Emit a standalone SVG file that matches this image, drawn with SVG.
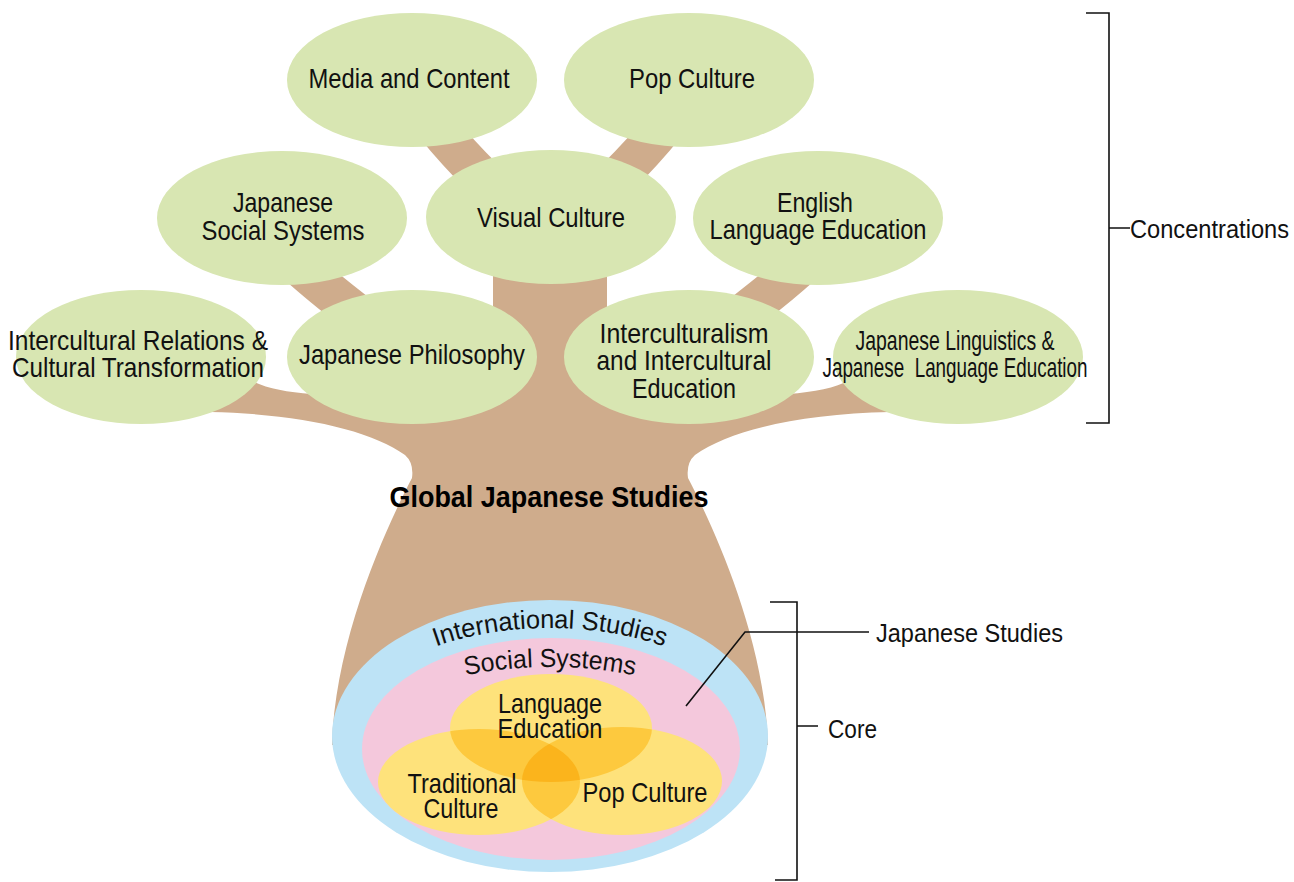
<svg xmlns="http://www.w3.org/2000/svg" width="1294" height="882" viewBox="0 0 1294 882">
<style>
.leaf{fill:#d8e6b2}
.wood{fill:#cfac8c}
.limb{fill:none;stroke:#cfac8c;stroke-width:40}
.t{font-family:"Liberation Sans Narrow","Liberation Sans",Arial,sans-serif;font-size:28px;fill:#111;text-anchor:middle}
.ts{font-family:"Liberation Sans Narrow","Liberation Sans",Arial,sans-serif;font-size:26px;fill:#111}
.tb{font-family:"Liberation Sans Narrow","Liberation Sans",Arial,sans-serif;font-size:30px;font-weight:bold;fill:#000;text-anchor:middle}
.ln{fill:none;stroke:#111;stroke-width:1.6}
.y1{fill:#fee27b}
.y2{fill:#fdc93e}
.y3{fill:#fbb41c}
</style>
<defs>
<clipPath id="cA"><ellipse cx="551" cy="728" rx="101" ry="54"/></clipPath>
<clipPath id="cB"><ellipse cx="479" cy="782" rx="101" ry="53"/></clipPath>
<path id="arcIS" d="M346,736 A204,108 0 0 1 754,736"/>
<path id="arcSS" d="M346,760 A204,93 0 0 1 754,760"/>
</defs>
<rect width="1294" height="882" fill="#fff"/>

<g id="tree">
<path class="wood" d="M190,410 L200,395 L250,380 C265,388 285,392 312,394 L420,380 L493,320 L493,240 L607,240 L607,320 L680,380 L788,394 C815,392 835,388 850,380 L900,395 L910,410 L890,412 C800,414 730,430 695,455 Q686,463 688,478 C715,530 765,640 768,745 L332,745 C335,640 385,530 412,478 Q414,463 405,455 C370,430 300,414 210,412 Z"/>
<path class="limb" d="M435,125 Q455,150 485,180"/>
<path class="limb" d="M665,125 Q645,150 615,180"/>
<path class="limb" d="M298,265 Q320,285 355,312"/>
<path class="limb" d="M802,265 Q780,285 745,312"/>
</g>

<g id="n-media"><ellipse class="leaf" cx="412" cy="80" rx="125" ry="67"/><text class="t" x="409" y="88" textLength="201" lengthAdjust="spacingAndGlyphs">Media and Content</text></g>
<g id="n-pop"><ellipse class="leaf" cx="689" cy="80" rx="125" ry="67"/><text class="t" x="692" y="88" textLength="126" lengthAdjust="spacingAndGlyphs">Pop Culture</text></g>
<g id="n-jss"><ellipse class="leaf" cx="282" cy="218" rx="125" ry="67"/><text class="t" x="283" y="212" textLength="100" lengthAdjust="spacingAndGlyphs">Japanese</text><text class="t" x="283" y="240" textLength="163" lengthAdjust="spacingAndGlyphs">Social Systems</text></g>
<g id="n-visual"><ellipse class="leaf" cx="551" cy="217" rx="125" ry="67"/><text class="t" x="551" y="227" textLength="148" lengthAdjust="spacingAndGlyphs">Visual Culture</text></g>
<g id="n-english"><ellipse class="leaf" cx="818" cy="218" rx="125" ry="67"/><text class="t" x="815" y="212" textLength="76" lengthAdjust="spacingAndGlyphs">English</text><text class="t" x="818" y="239" textLength="217" lengthAdjust="spacingAndGlyphs">Language Education</text></g>
<g id="n-irct"><ellipse class="leaf" cx="141" cy="357" rx="125" ry="67"/><text class="t" x="138" y="350" textLength="260" lengthAdjust="spacingAndGlyphs">Intercultural Relations &amp;</text><text class="t" x="138" y="377" textLength="252" lengthAdjust="spacingAndGlyphs">Cultural Transformation</text></g>
<g id="n-phil"><ellipse class="leaf" cx="412" cy="357" rx="125" ry="67"/><text class="t" x="412" y="364" textLength="226" lengthAdjust="spacingAndGlyphs">Japanese Philosophy</text></g>
<g id="n-icult"><ellipse class="leaf" cx="689" cy="357" rx="125" ry="67"/><text class="t" x="684" y="343" textLength="169" lengthAdjust="spacingAndGlyphs">Interculturalism</text><text class="t" x="684" y="370" textLength="175" lengthAdjust="spacingAndGlyphs">and Intercultural</text><text class="t" x="684" y="398" textLength="104" lengthAdjust="spacingAndGlyphs">Education</text></g>
<g id="n-ling"><ellipse class="leaf" cx="958" cy="357" rx="125" ry="67"/><text class="t" x="955" y="350" textLength="199" lengthAdjust="spacingAndGlyphs">Japanese Linguistics &amp;</text><text class="t" x="955" y="377" textLength="265" lengthAdjust="spacingAndGlyphs" xml:space="preserve">Japanese  Language Education</text></g>

<g id="n-global"><text class="tb" x="549" y="507" textLength="319" lengthAdjust="spacingAndGlyphs">Global Japanese Studies</text></g>

<g id="n-core">
<ellipse cx="550" cy="736" rx="218" ry="136" fill="#bde3f6"/>
<text class="ts" text-anchor="middle"><textPath href="#arcIS" startOffset="50%" text-anchor="middle" textLength="232" lengthAdjust="spacingAndGlyphs">International Studies</textPath></text>
<ellipse cx="551" cy="749" rx="189" ry="111" fill="#f4c8dc"/>
<text class="ts" text-anchor="middle"><textPath href="#arcSS" startOffset="50%" text-anchor="middle" textLength="170" lengthAdjust="spacingAndGlyphs">Social Systems</textPath></text>
<ellipse class="y1" cx="551" cy="728" rx="101" ry="54"/>
<ellipse class="y1" cx="479" cy="782" rx="101" ry="53"/>
<ellipse class="y1" cx="622" cy="781" rx="100" ry="54"/>
<ellipse class="y2" cx="479" cy="782" rx="101" ry="53" clip-path="url(#cA)"/>
<ellipse class="y2" cx="622" cy="781" rx="100" ry="54" clip-path="url(#cA)"/>
<ellipse class="y2" cx="622" cy="781" rx="100" ry="54" clip-path="url(#cB)"/>
<g clip-path="url(#cA)"><ellipse class="y3" cx="622" cy="781" rx="100" ry="54" clip-path="url(#cB)"/></g>
<text class="t" x="550" y="713" textLength="104" lengthAdjust="spacingAndGlyphs">Language</text>
<text class="t" x="550" y="738" textLength="105" lengthAdjust="spacingAndGlyphs">Education</text>
<text class="t" x="462" y="793" textLength="109" lengthAdjust="spacingAndGlyphs">Traditional</text>
<text class="t" x="461" y="818" textLength="75" lengthAdjust="spacingAndGlyphs">Culture</text>
<text class="t" x="645" y="802" textLength="125" lengthAdjust="spacingAndGlyphs">Pop Culture</text>
</g>

<g id="connectors">
<path class="ln" d="M1086,13 H1109 V423 H1086 M1109,228 H1130"/>
<path class="ln" d="M770,602 H797 V880 H775 M797,726 H818"/>
<path class="ln" d="M686,706 L745,632 H869"/>
</g>

<g id="n-concentrations"><text class="ts" x="1130" y="238" textLength="159" lengthAdjust="spacingAndGlyphs">Concentrations</text></g>
<g id="n-jstudies"><text class="ts" x="876" y="642" textLength="187" lengthAdjust="spacingAndGlyphs">Japanese Studies</text></g>
<g id="n-corelabel"><text class="ts" x="828" y="738" textLength="49" lengthAdjust="spacingAndGlyphs">Core</text></g>
</svg>
